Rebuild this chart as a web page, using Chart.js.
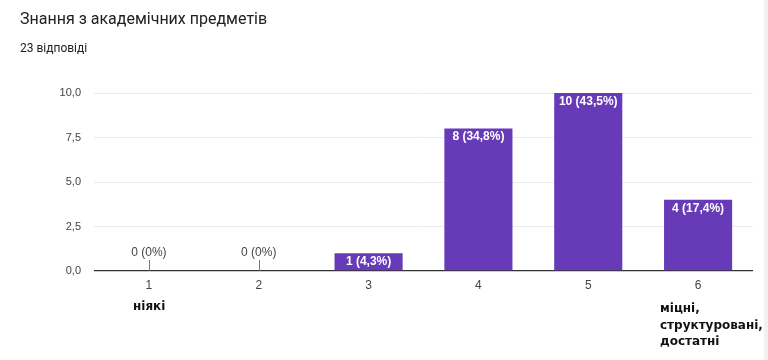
<!DOCTYPE html>
<html><head><meta charset="utf-8">
<script src="https://cdn.jsdelivr.net/npm/chart.js@4"></script>
<style>
html,body{margin:0;padding:0;background:#fff;}
#wrap{position:relative;width:768px;height:360px;overflow:hidden;}
#c{position:absolute;left:0;top:0;}
.t{position:absolute;white-space:nowrap;}
#title{left:20px;top:9px;font:16px Roboto,sans-serif;color:#202124;}
#sub{left:20px;top:41px;font:12px Roboto,sans-serif;color:#202124;}
.end{font:bold 12px "DejaVu Sans",sans-serif;color:#111;line-height:16.5px;}
#lo{left:133px;top:298px;}
#hi{left:660px;top:300px;}
#sb{position:absolute;left:764px;top:0;width:4px;height:360px;background:#f1f1f1;}
</style></head>
<body><div id="wrap">
<canvas id="c" width="768" height="360"></canvas>
<div class="t" id="title">Знання з академічних предметів</div>
<div class="t" id="sub">23 відповіді</div>
<div class="t end" id="lo">ніякі</div>
<div class="t end" id="hi">міцні,<br>структуровані,<br>достатні</div>
<div id="sb"></div>
</div>
<script>
const categories = ["1","2","3","4","5","6"];
const counts = [0, 0, 1, 8, 10, 4];
const yTicks = [0, 2.5, 5, 7.5, 10];
const total = 23;

function pctLabel(v){
  if (v === 0) return "0 (0%)";
  const p = (v/total*100).toFixed(1).replace('.', ',');
  return v + " (" + p + "%)";
}

const labelPlugin = {
  id: 'barLabels',
  afterDatasetsDraw(chart){
    const ctx = chart.ctx;
    const meta = chart.getDatasetMeta(0);
    ctx.save();
    ctx.textAlign = 'center';
    ctx.textBaseline = 'middle';
    meta.data.forEach((bar, i) => {
      const v = counts[i];
      const txt = pctLabel(v);
      if (v > 0) {
        ctx.font = 'bold 12px "Liberation Sans", Arial, sans-serif';
        ctx.fillStyle = '#ffffff';
        ctx.fillText(txt, bar.x, bar.y + 8.5);
      } else {
        ctx.font = '12px "Liberation Sans", Arial, sans-serif';
        ctx.fillStyle = '#444';
        ctx.fillText(txt, bar.x, bar.y - 18);
        ctx.strokeStyle = '#777';
        ctx.lineWidth = 1;
        ctx.beginPath();
        ctx.moveTo(Math.round(bar.x) + 0.5, bar.y - 11);
        ctx.lineTo(Math.round(bar.x) + 0.5, bar.y);
        ctx.stroke();
      }
    });
    ctx.restore();
  }
};

new Chart(document.getElementById('c'), {
  type: 'bar',
  data: {
    labels: categories,
    datasets: [{
      data: counts,
      backgroundColor: '#673ab7',
      barPercentage: 0.62,
      categoryPercentage: 1.0
    }]
  },
  options: {
    responsive: false,
    animation: false,
    layout: { padding: { top: 93, right: 15, left: 0, bottom: 0 } },
    plugins: { legend: { display: false }, tooltip: { enabled: false } },
    scales: {
      x: {
        grid: { display: false, drawTicks: false },
        border: { display: false },
        ticks: { color: '#444', font: { family: '"Liberation Sans", Arial, sans-serif', size: 12 }, padding: 7 },
        afterFit(s){ s.height = 89; }
      },
      y: {
        min: 0, max: 10,
        afterBuildTicks(s){ s.ticks = yTicks.map(v => ({ value: v })); },
        grid: {
          drawTicks: false,
          color: c => c.tick && c.tick.value === 0 ? '#333' : '#ebebeb',
          lineWidth: c => c.tick && c.tick.value === 0 ? 1.3 : 1
        },
        border: { display: false },
        ticks: {
          color: '#444',
          font: { family: '"Liberation Sans", Arial, sans-serif', size: 11 },
          padding: 13,
          callback: v => Number(v).toFixed(1).replace('.', ',')
        },
        afterFit(s){ s.width = 94; }
      }
    }
  },
  plugins: [labelPlugin]
});
</script>
</body></html>
